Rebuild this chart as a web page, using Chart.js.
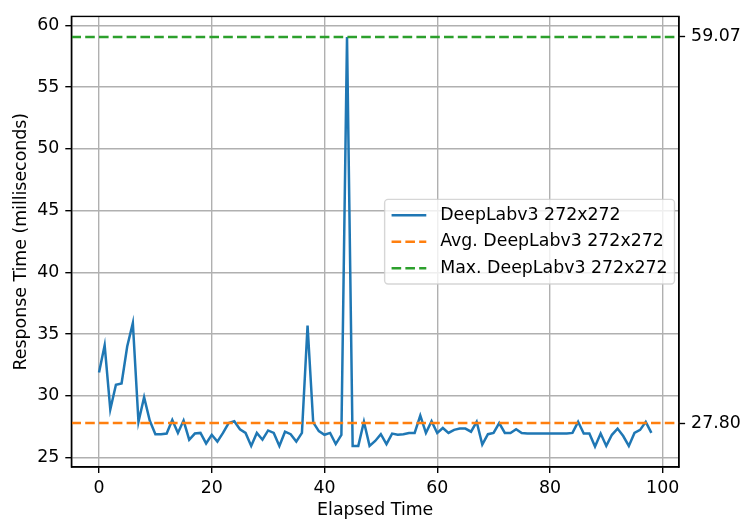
<!DOCTYPE html>
<html><head><meta charset="utf-8">
<script src="https://cdn.jsdelivr.net/npm/chart.js@4.4.1/dist/chart.umd.min.js"></script>
<style>html,body{margin:0;padding:0;background:#fff;} canvas{display:block;}</style>
</head><body>
<canvas id="c" width="744" height="523"></canvas>
<script>
// ---- data ----
const elapsedTime = [0,1,2,3,4,5,6,7,8,9,10,11,12,13,14,15,16,17,18,19,20,21,22,23,24,25,26,27,28,29,30,31,32,33,34,35,36,37,38,39,40,41,42,43,44,45,46,47,48,49,50,51,52,53,54,55,56,57,58,59,60,61,62,63,64,65,66,67,68,69,70,71,72,73,74,75,76,77,78,79,80,81,82,83,84,85,86,87,88,89,90,91,92,93,94,95,96,97,98];
const responseTime = [
  31.9,34.1,28.9,30.9,31.0,34.0,35.9,27.9,29.9,28.0,
  26.9,26.9,26.95,28.05,27.0,28.0,26.45,26.95,27.0,26.15,
  26.85,26.3,27.0,27.8,27.95,27.3,27.0,25.95,27.0,26.45,
  27.2,27.0,25.95,27.1,26.9,26.3,27.0,35.7,27.85,27.15,
  26.85,27.0,26.1,26.85,59.07,25.95,25.95,27.9,25.95,26.35,
  26.9,26.1,26.95,26.85,26.9,27.0,27.0,28.4,27.0,27.95,
  27.0,27.4,27.0,27.25,27.35,27.35,27.1,27.9,26.05,26.9,
  27.0,27.8,27.0,27.0,27.3,27.0,26.95,26.95,26.95,26.95,
  26.95,26.95,26.95,26.95,27.0,27.9,26.95,26.95,25.9,26.95,
  25.95,26.85,27.35,26.75,25.95,27.0,27.25,27.9,27.0
];
const avgResponse = 27.80;
const maxResponse = 59.07;
const xTickValues = [0,20,40,60,80,100];
const yTickValues = [25,30,35,40,45,50,55,60];
const rightTickValues = [avgResponse, maxResponse];
const seriesLabels = ['DeepLabv3 272x272','Avg. DeepLabv3 272x272','Max. DeepLabv3 272x272'];
const xTitle = 'Elapsed Time';
const yTitle = 'Response Time (milliseconds)';

// ---- matplotlib-like limits (5% margins) ----
const dxMin = Math.min(...elapsedTime), dxMax = Math.max(...elapsedTime);
const dyMin = Math.min(...responseTime), dyMax = Math.max(...responseTime);
const xMin = dxMin - 0.05*(dxMax-dxMin), xMax = dxMax + 0.05*(dxMax-dxMin);
const yMin = dyMin - 0.05*(dyMax-dyMin), yMax = dyMax + 0.05*(dyMax-dyMin);

const FS = 17.36;
const FONT = {family:'"DejaVu Sans"', size:FS};
const LW = 2.5, AX = 1.39, TL = 6.1;

const framePlugin = {
  id:'frame',
  afterDatasetsDraw(chart){
    const {ctx, chartArea:a} = chart;
    ctx.save();
    ctx.strokeStyle = '#000'; ctx.lineWidth = AX;
    ctx.strokeRect(a.left, a.top, a.right-a.left, a.bottom-a.top);
    ctx.restore();
  }
};

const legendPlugin = {
  id:'mplLegend',
  afterDatasetsDraw(chart){
    const {ctx, chartArea:a} = chart;
    ctx.save();
    ctx.font = FS + 'px "DejaVu Sans"';
    const items = chart.data.datasets.map(d=>({label:d.label,color:d.borderColor,dash:d.borderDash||[]}));
    const tw = Math.max(...items.map(i=>ctx.measureText(i.label).width));
    const pad = 0.4*FS, hl = 2*FS, htp = 0.8*FS, ls = 0.5*FS, bap = 4.5;
    const rowH = 17.8;
    const w = 2*pad + hl + htp + tw;
    const h = 2*pad + items.length*rowH + (items.length-1)*ls;
    const x = a.right - bap - w;
    const y = (a.top + a.bottom)/2 - h/2;
    const r = 0.2*FS;
    ctx.beginPath();
    ctx.moveTo(x+r,y); ctx.lineTo(x+w-r,y); ctx.arcTo(x+w,y,x+w,y+r,r);
    ctx.lineTo(x+w,y+h-r); ctx.arcTo(x+w,y+h,x+w-r,y+h,r);
    ctx.lineTo(x+r,y+h); ctx.arcTo(x,y+h,x,y+h-r,r);
    ctx.lineTo(x,y+r); ctx.arcTo(x,y,x+r,y,r); ctx.closePath();
    ctx.fillStyle = 'rgba(255,255,255,0.8)'; ctx.fill();
    ctx.strokeStyle = 'rgba(204,204,204,0.8)'; ctx.lineWidth = 1.39; ctx.stroke();
    items.forEach((it,i)=>{
      const cy = y + pad + rowH/2 + i*(rowH+ls);
      ctx.beginPath();
      ctx.setLineDash(it.dash);
      ctx.strokeStyle = it.color; ctx.lineWidth = LW;
      ctx.moveTo(x+pad, cy); ctx.lineTo(x+pad+hl, cy); ctx.stroke();
      ctx.setLineDash([]);
      ctx.fillStyle = '#000'; ctx.textBaseline = 'middle'; ctx.textAlign = 'left';
      ctx.fillText(it.label, x+pad+hl+htp, cy);
    });
    ctx.restore();
  }
};

Chart.defaults.color = '#000';
Chart.defaults.font.family = '"DejaVu Sans"';
Chart.defaults.font.size = FS;

new Chart(document.getElementById('c'), {
  type:'line',
  data:{
    datasets:[
      {label:seriesLabels[0], data:elapsedTime.map((t,i)=>({x:t,y:responseTime[i]})),
       borderColor:'#1f77b4', borderWidth:LW, pointRadius:0, tension:0, order:2},
      {label:seriesLabels[1], data:[{x:xMin,y:avgResponse},{x:xMax,y:avgResponse}],
       borderColor:'#ff7f0e', borderWidth:LW, borderDash:[9.6,4.2], pointRadius:0, order:1},
      {label:seriesLabels[2], data:[{x:xMin,y:maxResponse},{x:xMax,y:maxResponse}],
       borderColor:'#2ca02c', borderWidth:LW, borderDash:[9.6,4.2], pointRadius:0, order:0}
    ]
  },
  options:{
    responsive:false, animation:false, devicePixelRatio:1,
    layout:{padding:{top:13,left:0,right:0,bottom:0}},
    plugins:{legend:{display:false}, tooltip:{enabled:false}},
    scales:{
      x:{type:'linear', position:'bottom', min:xMin, max:xMax,
         afterBuildTicks:s=>{s.ticks = xTickValues.map(v=>({value:v}));},
         afterFit:s=>{s.height = 56;},
         ticks:{font:FONT, padding:5, maxRotation:0, autoSkip:false, callback:v=>String(v)},
         grid:{color:'#b0b0b0', lineWidth:AX, tickColor:'#000', tickLength:TL, tickWidth:AX},
         border:{display:true, color:'#000', width:AX},
         title:{display:true, text:xTitle, font:FONT, padding:{top:0,bottom:2}}},
      y:{type:'linear', position:'left', min:yMin, max:yMax,
         afterBuildTicks:s=>{s.ticks = yTickValues.map(v=>({value:v}));},
         afterFit:s=>{s.width = 71.4;},
         ticks:{font:FONT, padding:6, autoSkip:false, callback:v=>String(v)},
         grid:{color:'#b0b0b0', lineWidth:AX, tickColor:'#000', tickLength:TL, tickWidth:AX},
         border:{display:true, color:'#000', width:AX},
         title:{display:true, text:yTitle, font:FONT, padding:{top:11,bottom:0}}},
      y2:{type:'linear', position:'right', min:yMin, max:yMax,
         afterBuildTicks:s=>{s.ticks = rightTickValues.map(v=>({value:v}));},
         afterFit:s=>{s.width = 65;},
         ticks:{font:FONT, padding:6, autoSkip:false, callback:v=>Number(v).toFixed(2)},
         grid:{drawOnChartArea:false, tickColor:'#000', tickLength:TL, tickWidth:AX},
         border:{display:true, color:'#000', width:AX}}
    }
  },
  plugins:[framePlugin, legendPlugin]
});
</script>
</body></html>
